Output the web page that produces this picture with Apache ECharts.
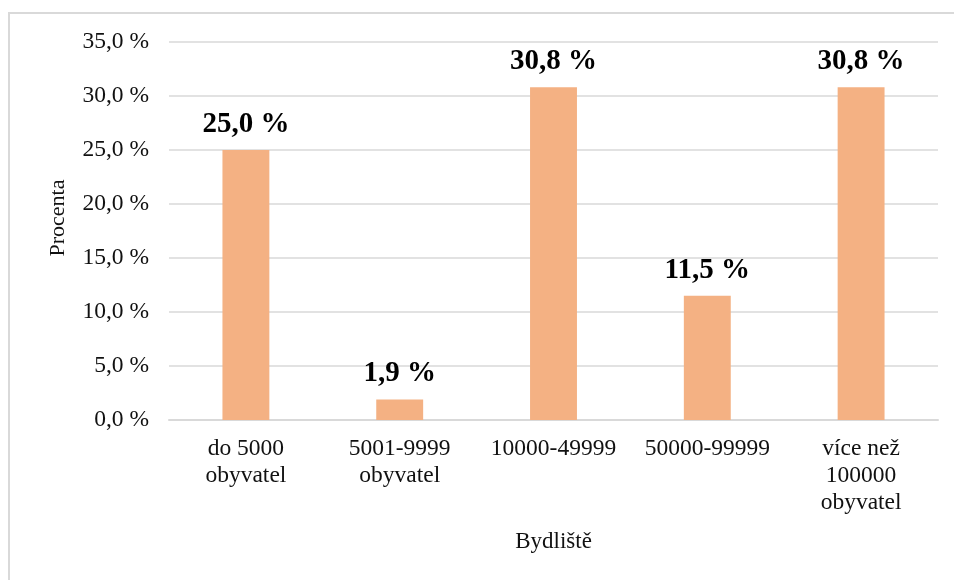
<!DOCTYPE html>
<html>
<head>
<meta charset="utf-8">
<script src="https://cdn.jsdelivr.net/npm/echarts@6/dist/echarts.min.js"></script>
<style>
  html, body { margin: 0; padding: 0; background: #fff; }
  #chart { width: 954px; height: 580px; }
</style>
</head>
<body>
<div id="chart"></div>
<script>
// Place of residence (Bydliště) vs. share of respondents
const categories = ['do 5000\nobyvatel', '5001-9999\nobyvatel', '10000-49999', '50000-99999', 'více než\n100000\nobyvatel'];
const percentages = [25.0, 1.9, 30.8, 11.5, 30.8];
const yTicks = { min: 0, max: 35, step: 5 };

const serif = '"Liberation Serif", "Times New Roman", serif';
const fmt = v => v.toFixed(1).replace('.', ',') + ' %';

const chart = echarts.init(document.getElementById('chart'));
chart.setOption({
  animation: false,
  backgroundColor: '#fff',
  graphic: [{
    type: 'rect',
    shape: { x: 9, y: 13, width: 1000, height: 700 },
    style: { fill: 'none', stroke: '#D9D9D9', lineWidth: 2 },
    silent: true
  }],
  grid: { left: 169, right: 16, top: 42, bottom: 160 },
  xAxis: {
    type: 'category',
    data: categories,
    name: 'Bydliště',
    nameLocation: 'middle',
    nameGap: 110,
    nameTextStyle: { fontFamily: serif, fontSize: 23, color: '#111' },
    axisLine: { lineStyle: { color: '#D9D9D9', width: 2 } },
    axisTick: { show: false },
    axisLabel: {
      interval: 0, margin: 15,
      fontFamily: serif, fontSize: 23.5, lineHeight: 27, color: '#111'
    }
  },
  yAxis: {
    type: 'value',
    min: yTicks.min, max: yTicks.max, interval: yTicks.step,
    name: 'Procenta',
    nameLocation: 'middle',
    nameGap: 100,
    nameTextStyle: { fontFamily: serif, fontSize: 22, color: '#111', padding: [0, 0, 0, 26] },
    axisLine: { show: false },
    axisTick: { show: false },
    splitLine: { lineStyle: { color: '#D9D9D9', width: 1.5 } },
    axisLabel: {
      margin: 20, formatter: fmt,
      fontFamily: serif, fontSize: 23.5, color: '#111'
    }
  },
  series: [{
    type: 'bar',
    data: percentages,
    barWidth: '30.5%',
    itemStyle: { color: '#F4B183' },
    label: {
      show: true, position: 'top', distance: 11,
      formatter: p => fmt(p.value),
      fontFamily: serif, fontSize: 29, fontWeight: 'bold', color: '#000'
    }
  }]
});
</script>
</body>
</html>
